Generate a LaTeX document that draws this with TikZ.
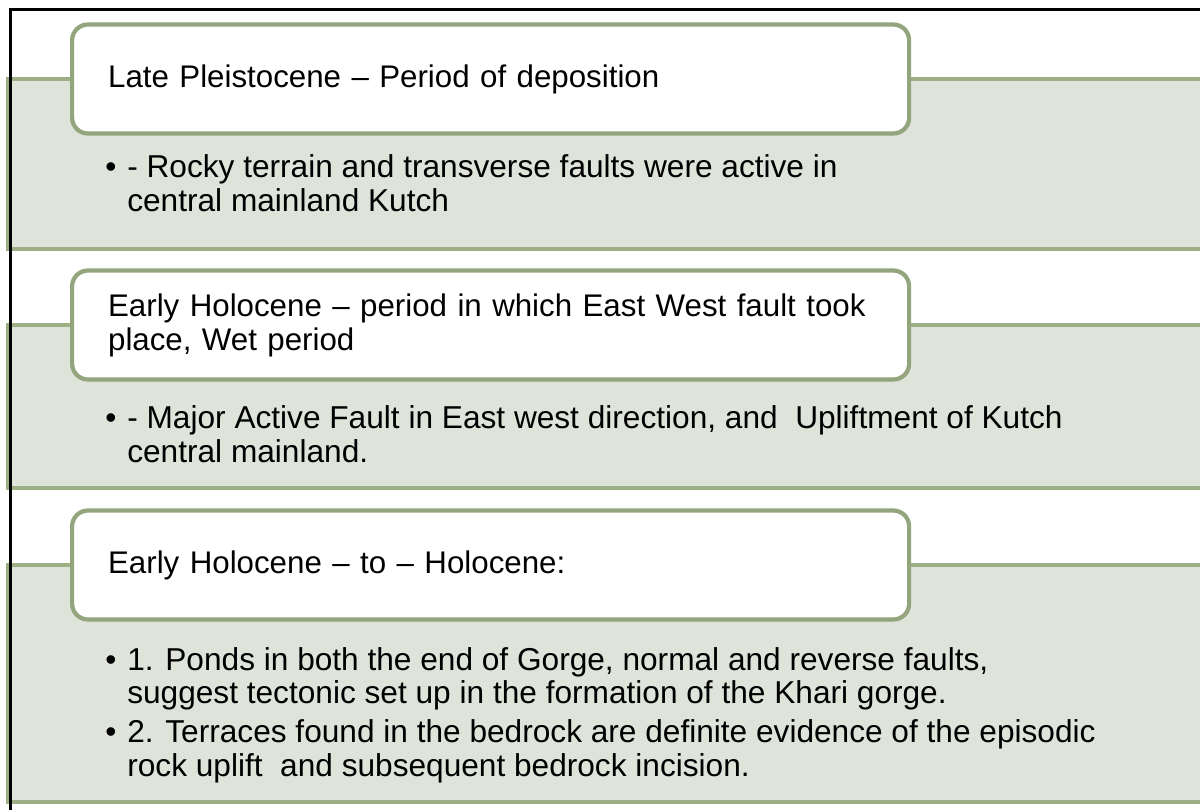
\documentclass[tikz,border=0pt]{standalone}
\usepackage{fontspec}
\setmainfont{Liberation Sans}
\definecolor{bandfill}{RGB}{223,228,218}
\definecolor{bandline}{RGB}{156,175,133}
\definecolor{boxline}{RGB}{146,165,124}
\newcommand{\bul}{\makebox[12.5pt][l]{\textbullet}}
\newcommand{\ind}{\hspace*{12.5pt}}

\begin{document}
\begin{tikzpicture}[
	band/.style={draw=bandline, fill=bandfill, line width=2.2pt},
	titlebox/.style={draw=boxline, fill=white, line width=2.4pt, rounded corners=9pt,
		anchor=west, minimum height=2.18cm, text width=15.3cm, inner xsep=0.72cm,
		align=left, font=\fontsize{17.8}{19.4}\selectfont},
	bullets/.style={anchor=base west, inner sep=0pt, align=left,
		font=\fontsize{18}{18.8}\selectfont}
]
	\useasboundingbox (0,0) rectangle (24,-16.18);

	\draw [band] (0.15,-1.58) rectangle (24.4,-4.98);
	\node [titlebox] (late) at (1.4,-1.58) {Late Pleistocene – Period of deposition};
	\node [bullets] (lateitems) at (2.1,-4.22) {\bul- Rocky terrain and transverse faults were active in\\
		\ind central mainland Kutch};

	\draw [band] (0.15,-6.5) rectangle (24.4,-9.76);
	\node [titlebox] (early) at (1.4,-6.5) {\mbox{Early Holocene – period in which East West fault took}\\place, Wet period};
	\node [bullets] (earlyitems) at (2.1,-9.24) {\bul- Major Active Fault in East west direction, and\ \ Upliftment of Kutch\\
		\ind central mainland.};

	\draw [band] (0.15,-11.3) rectangle (24.4,-16.04);
	\node [titlebox] (holo) at (1.4,-11.3) {Early Holocene – to – Holocene:};
	\node [bullets] (holoitems) at (2.1,-15.52) {\bul1. Ponds in both the end of Gorge, normal and reverse faults,\\
		\ind suggest tectonic set up in the formation of the Khari gorge.\\[3.4pt]
		\bul2. Terraces found in the bedrock are definite evidence of the episodic\\
		\ind rock uplift\ \ and subsequent bedrock incision.};

	\draw [line width=1.2pt] (0.21,-0.19) rectangle (24.5,-16.5);
\end{tikzpicture}
\end{document}
